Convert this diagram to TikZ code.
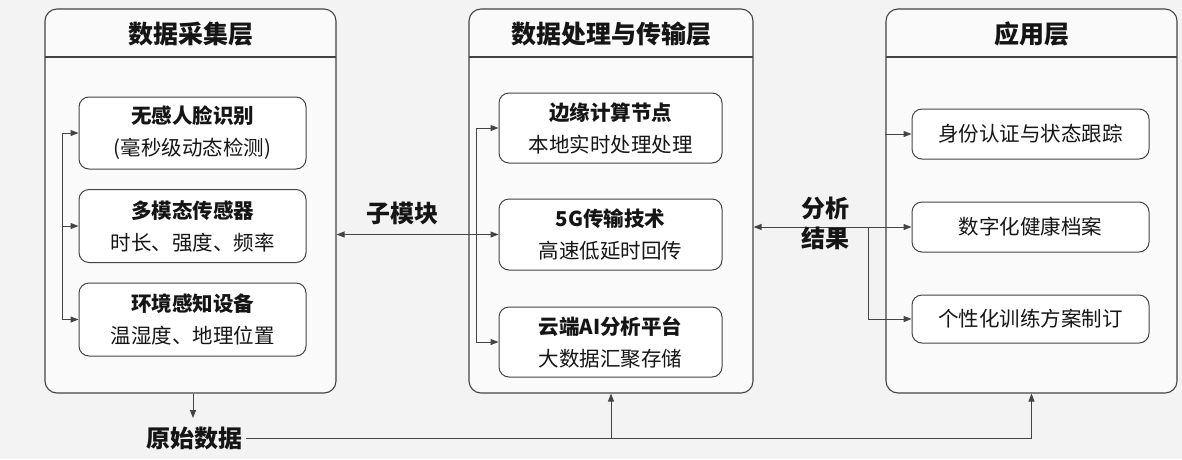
\documentclass[tikz,border=0pt]{standalone}
\usepackage{fontspec}
\setmainfont{Noto Sans CJK SC}
\usetikzlibrary{arrows.meta}
\definecolor{bgc}{HTML}{F3F3F3}
\definecolor{panelfill}{HTML}{FAFAFA}
\definecolor{linec}{HTML}{444444}
\definecolor{txtc}{HTML}{151515}
\begin{document}
\begin{tikzpicture}[x=1pt,y=-1pt,
  panel/.style={draw=linec, line width=1.1pt, rounded corners=12pt, fill=panelfill, inner sep=0pt},
  inbox/.style={draw=linec, line width=1pt, rounded corners=10pt, fill=white, inner sep=0pt, align=center, text=txtc, font=\fontsize{20.5}{32}\selectfont},
  ptitle/.style={font=\fontsize{25}{30}\selectfont\bfseries, text=txtc},
  lbl/.style={font=\fontsize{24}{30}\selectfont\bfseries, text=txtc, align=center},
  conn/.style={draw=linec, line width=1pt},
  arr/.style={conn, -{Triangle[length=8pt,width=6pt]}},
  darr/.style={conn, {Triangle[length=8pt,width=6pt]}-{Triangle[length=8pt,width=6pt]}}
]
\fill[bgc] (0,0) rectangle (1182,459);
\useasboundingbox (0,0) rectangle (1182,459);

% panels
\node[panel, minimum width=291, minimum height=384] (L) at (190.5,201) {};
\node[panel, minimum width=284, minimum height=384] (M) at (611,201) {};
\node[panel, minimum width=291, minimum height=384] (R) at (1031.5,201) {};
\draw[conn, line width=1.1pt] (45,57) -- (336,57);
\draw[conn, line width=1.1pt] (469,57) -- (753,57);
\draw[conn, line width=1.1pt] (886,57) -- (1177,57);
\node[ptitle] (Lt) at (190.5,34) {数据采集层};
\node[ptitle] (Mt) at (611,34) {数据处理与传输层};
\node[ptitle] (Rt) at (1031.5,34) {应用层};

% left inner boxes
\node[inbox, minimum width=227, minimum height=72] (L1) at (192.5,133) {{\bfseries 无感人脸识别}\\(毫秒级动态检测)};
\node[inbox, minimum width=227, minimum height=73] (L2) at (192.5,226) {{\bfseries 多模态传感器}\\时长、强度、频率};
\node[inbox, minimum width=227, minimum height=73] (L3) at (192.5,319.5) {{\bfseries 环境感知设备}\\温湿度、地理位置};

% middle inner boxes
\node[inbox, minimum width=223, minimum height=70] (M1) at (610.5,128) {{\bfseries 边缘计算节点}\\本地实时处理处理};
\node[inbox, minimum width=223, minimum height=71] (M2) at (610.5,234.5) {{\bfseries 5G传输技术}\\高速低延时回传};
\node[inbox, minimum width=223, minimum height=70] (M3) at (610.5,342) {{\bfseries 云端AI分析平台}\\大数据汇聚存储};

% right inner boxes
\node[inbox, minimum width=237, minimum height=50] (R1) at (1030.5,134) {身份认证与状态跟踪};
\node[inbox, minimum width=237, minimum height=50] (R2) at (1030.5,227) {数字化健康档案};
\node[inbox, minimum width=237, minimum height=48] (R3) at (1030.5,319) {个性化训练方案制订};

% left bracket
\coordinate (lbx) at (62,0);
\draw[conn] (lbx |- L1.west) -- (lbx |- L3.west);
\draw[arr] (lbx |- L1.west) -- (L1.west);
\draw[arr] (lbx |- L2.west) -- (L2.west);
\draw[arr] (lbx |- L3.west) -- (L3.west);

% middle bracket
\coordinate (mbx) at (476,0);
\draw[conn] (mbx |- M1.west) -- (mbx |- M3.west);
\draw[arr] (mbx |- M1.west) -- (M1.west);
\draw[arr] (mbx |- M3.west) -- (M3.west);

% submodule link
\draw[darr] (L.east |- M2.west) -- (M2.west);
\node[lbl] (sub) at (402,213) {子模块};

% analysis results link
\draw[darr] (M.east |- R2.west) -- (R2.west);
\coordinate (rbx) at (868,0);
\draw[arr] (rbx |- R2.west) |- (R3.west);
\draw[arr] (R.west |- R1.west) -- (R1.west);
\node[lbl] (ana) at (825,223) {分析\\结果};

% raw data
\node[lbl] (raw) at (194,438) {原始数据};
\draw[arr] (L.south -| 193,0) -- (193,418);
\draw[conn] (raw.east) -- (R.south |- raw.east);
\draw[arr] (R.south |- raw.east) -- (R.south);
\draw[arr] (M.south |- raw.east) -- (M.south);
\end{tikzpicture}
\end{document}
